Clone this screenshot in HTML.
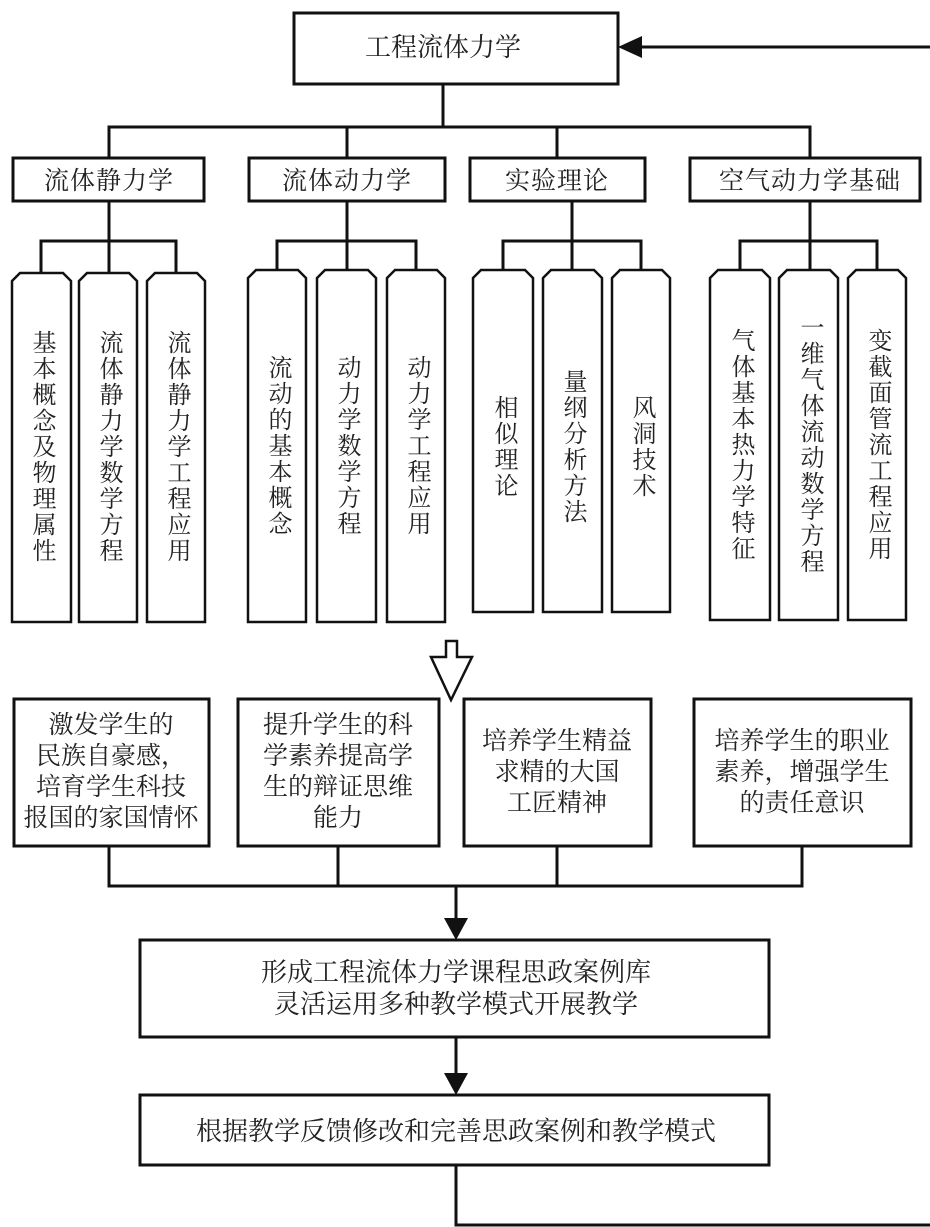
<!DOCTYPE html>
<html><head><meta charset="utf-8"><style>
html,body{margin:0;padding:0;background:#fff}
svg{display:block}
text{font-family:"Liberation Serif","Noto Serif CJK SC","Noto Sans CJK SC",serif;fill:#222;font-size:24px}
.v{writing-mode:vertical-rl;text-anchor:middle;letter-spacing:2px}
.l2{font-size:25px;letter-spacing:1px}
.b text{font-size:25px}
.c, .c text{font-size:26px}
</style></head><body>
<svg width="930" height="1227" viewBox="0 0 930 1227" xmlns="http://www.w3.org/2000/svg">
<g fill="none" stroke="#111" stroke-width="3">
<rect x="294" y="13" width="324" height="71"/>
<line x1="930" y1="47" x2="640" y2="47"/>
<line x1="443" y1="84" x2="443" y2="127"/>
<polyline points="109,158 109,127 810,127 810,158"/>
<line x1="347" y1="127" x2="347" y2="158"/>
<line x1="557" y1="127" x2="557" y2="158"/>
<rect x="13" y="158" width="191" height="43"/>
<rect x="249" y="158" width="196" height="43"/>
<rect x="470" y="158" width="175" height="43"/>
<rect x="690" y="158" width="230" height="43"/>
<line x1="109" y1="201" x2="109" y2="273"/>
<polyline points="41,273 41,241 176,241 176,273"/>
<line x1="347" y1="201" x2="347" y2="270"/>
<polyline points="277,270 277,241 416,241 416,270"/>
<line x1="572" y1="201" x2="572" y2="270"/>
<polyline points="503,270 503,241 641,241 641,270"/>
<line x1="810" y1="201" x2="810" y2="270"/>
<polyline points="740,270 740,241 877,241 877,270"/>
</g>
<g fill="none" stroke="#111" stroke-width="2.5">
<path d="M20,273 H63 L71,281 V622 H12 V281 Z"/>
<path d="M87,273 H129 L137,281 V622 H79 V281 Z"/>
<path d="M155,273 H197 L205,281 V622 H147 V281 Z"/>
<path d="M256,270 H298 L306,278 V622 H248 V278 Z"/>
<path d="M325,270 H368 L376,278 V622 H317 V278 Z"/>
<path d="M395,270 H437 L445,278 V622 H387 V278 Z"/>
<path d="M481,270 H525 L533,278 V612 H473 V278 Z"/>
<path d="M551,270 H594 L602,278 V612 H543 V278 Z"/>
<path d="M620,270 H662 L670,278 V612 H612 V278 Z"/>
<path d="M718,270 H762 L770,278 V620 H710 V278 Z"/>
<path d="M787,270 H830 L838,278 V620 H779 V278 Z"/>
<path d="M856,270 H898 L906,278 V620 H848 V278 Z"/>
</g>
<path d="M446,641 H457 V657 H472 L451,700 L431,657 H446 Z" fill="#fff" stroke="#111" stroke-width="2.5"/>
<g fill="none" stroke="#111" stroke-width="3">
<rect x="14" y="699" width="195" height="147"/>
<rect x="238" y="699" width="201" height="147"/>
<rect x="464" y="699" width="187" height="147"/>
<rect x="694" y="699" width="217" height="147"/>
<polyline points="109,846 109,886 802,886 802,846"/>
<line x1="338" y1="846" x2="338" y2="886"/>
<line x1="557" y1="846" x2="557" y2="886"/>
<line x1="456" y1="886" x2="456" y2="920"/>
<rect x="140" y="940" width="629" height="97"/>
<line x1="456" y1="1037" x2="456" y2="1075"/>
<rect x="140" y="1095" width="629" height="70"/>
<polyline points="456,1165 456,1225 930,1225"/>
</g>
<g fill="#111">
<polygon points="618,47 642,36 642,58"/>
<polygon points="456,940 444,918 468,918"/>
<polygon points="456,1095 444,1073 468,1073"/>
</g>
<text x="443" y="56" text-anchor="middle" class="c">工程流体力学</text>
<text x="109" y="189" text-anchor="middle" class="l2">流体静力学</text>
<text x="347" y="189" text-anchor="middle" class="l2">流体动力学</text>
<text x="557" y="189" text-anchor="middle" class="l2">实验理论</text>
<text x="810" y="189" text-anchor="middle" class="l2">空气动力学基础</text>
<text class="v" x="41" y="447">基本概念及物理属性</text>
<text class="v" x="108" y="447">流体静力学数学方程</text>
<text class="v" x="176" y="447">流体静力学工程应用</text>
<text class="v" x="277" y="446">流动的基本概念</text>
<text class="v" x="346" y="446">动力学数学方程</text>
<text class="v" x="416" y="446">动力学工程应用</text>
<text class="v" x="503" y="447">相似理论</text>
<text class="v" x="572" y="447">量纲分析方法</text>
<text class="v" x="641" y="447">风洞技术</text>
<text class="v" x="740" y="445">气体基本热力学特征</text>
<text class="v" x="809" y="445">一维气体流动数学方程</text>
<text class="v" x="877" y="445">变截面管流工程应用</text>
<g text-anchor="middle" class="b">
<text x="111" y="733">激发学生的</text>
<text x="111" y="764">民族自豪感，</text>
<text x="111" y="795">培育学生科技</text>
<text x="111" y="826">报国的家国情怀</text>
<text x="338" y="733">提升学生的科</text>
<text x="338" y="764">学素养提高学</text>
<text x="338" y="795">生的辩证思维</text>
<text x="338" y="826">能力</text>
<text x="557" y="749">培养学生精益</text>
<text x="557" y="780">求精的大国</text>
<text x="557" y="811">工匠精神</text>
<text x="802" y="749">培养学生的职业</text>
<text x="802" y="780">素养，增强学生</text>
<text x="802" y="811">的责任意识</text>
</g>
<g text-anchor="middle" class="c">
<text x="456" y="981">形成工程流体力学课程思政案例库</text>
<text x="456" y="1013">灵活运用多种教学模式开展教学</text>
<text x="456" y="1140">根据教学反馈修改和完善思政案例和教学模式</text>
</g>
</svg>
</body></html>
